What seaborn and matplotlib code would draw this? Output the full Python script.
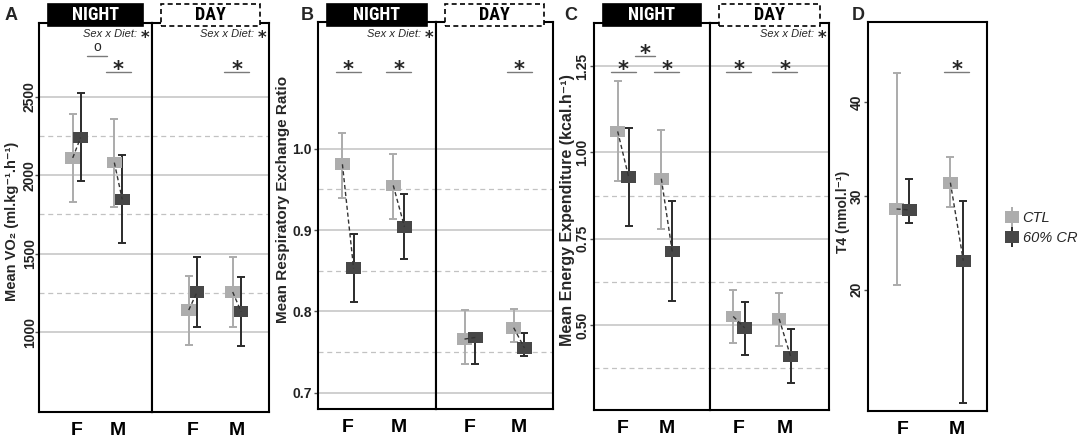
"""Metabolic cage summary: VO2, RER, energy expenditure and T4 by sex and diet."""

import matplotlib

matplotlib.use("Agg")
import matplotlib.pyplot as plt
import pandas as pd
import seaborn as sns
from matplotlib import font_manager
from matplotlib.lines import Line2D
from matplotlib.patches import Rectangle
from matplotlib.transforms import blended_transform_factory


W, H = 1084, 437

SEXES = ["F", "M"]
DIETS = ["CTL", "60% CR"]
PHASES = ["NIGHT", "DAY"]

# order: NIGHT F CTL, NIGHT F CR, NIGHT M CTL, NIGHT M CR, then DAY in the same order
vo2_mean = [2110, 2240, 2080, 1845, 1140, 1255, 1255, 1130]
vo2_low = [1830, 1960, 1800, 1570, 915, 1030, 1030, 908]
vo2_high = [2390, 2525, 2360, 2130, 1360, 1480, 1480, 1350]

rer_mean = [0.981, 0.853, 0.955, 0.904, 0.766, 0.768, 0.780, 0.755]
rer_low = [0.940, 0.812, 0.914, 0.864, 0.735, 0.735, 0.763, 0.745]
rer_high = [1.020, 0.895, 0.994, 0.944, 0.802, 0.772, 0.803, 0.774]

ee_mean = [1.061, 0.930, 0.924, 0.713, 0.525, 0.492, 0.518, 0.409]
ee_low = [0.916, 0.786, 0.779, 0.571, 0.449, 0.414, 0.438, 0.333]
ee_high = [1.206, 1.072, 1.064, 0.858, 0.603, 0.568, 0.594, 0.490]

# T4 measured once: F CTL, F CR, M CTL, M CR
t4_mean = [28.6, 28.5, 31.4, 23.1]
t4_low = [20.5, 27.1, 28.8, 7.9]
t4_high = [43.1, 31.8, 34.1, 29.5]

# significance bars: (phase, centre on the sex axis, level, symbol)
vo2_sig = [("NIGHT", 1.5, 1, "o"), ("NIGHT", 2, 0, "*"), ("DAY", 2, 0, "*")]
rer_sig = [("NIGHT", 1, 0, "*"), ("NIGHT", 2, 0, "*"), ("DAY", 2, 0, "*")]
ee_sig = [("NIGHT", 1, 0, "*"), ("NIGHT", 1.5, 1, "*"), ("NIGHT", 2, 0, "*"),
          ("DAY", 1, 0, "*"), ("DAY", 2, 0, "*")]
t4_sig = [("ALL", 2, 0, "*")]

vo2_interaction = ["NIGHT", "DAY"]
rer_interaction = ["NIGHT"]
ee_interaction = ["DAY"]

CTL_FILL = "#ADADAD"
CR_FILL = "#474747"
BAR_COLORS = {"CTL": "#ABABAB", "60% CR": "#2B2B2B"}
PALETTE = {"CTL": CTL_FILL, "60% CR": CR_FILL}
GRID = "#C2C2C2"
SIG_GREY = "#7A7A7A"
BOX = [(-1, -0.8), (1, -0.8), (1, 0.8), (-1, 0.8), (-1, -0.8)]

sns.set_theme(style="white")
plt.rcParams.update({
    "font.family": ["Liberation Sans", "DejaVu Sans"],
    "axes.edgecolor": "black",
    "axes.linewidth": 1.5,
})

names = {f.name for f in font_manager.fontManager.ttflist}
NARROW = [n for n in ("Liberation Sans Narrow", "DejaVu Sans Condensed", "Roboto Condensed")
          if n in names]
STRIP_FONT = NARROW[0] if NARROW else "Liberation Sans"
STRIP_SIZE = 13 if NARROW else 11.5

panels = [
    dict(letter="A", letter_x=5, phases=PHASES, mean=vo2_mean, low=vo2_low, high=vo2_high,
         label="Mean VO₂ (ml.kg⁻¹.h⁻¹)", label_size=10.5, label_x=19, label_y=221,
         tick_pad=-1.4,
         cols=[(39, 152), (152, 269)], rows=(23, 412), xlims=[(0.095, 2.81), (0.07, 2.73)],
         dodge=0.095, ylim=(490, 2970), ticks=[1000, 1500, 2000, 2500],
         minor=[1250, 1750, 2250], fmt="{:.0f}", rot=90, grid=True,
         sig=vo2_sig, inter=vo2_interaction),
    dict(letter="B", letter_x=301, phases=PHASES, mean=rer_mean, low=rer_low, high=rer_high,
         label="Mean Respiratory Exchange Ratio", label_size=11, label_x=290, label_y=199,
         tick_pad=1.5,
         cols=[(318, 436), (436, 553)], rows=(22, 409), xlims=[(0.41, 2.73), (0.31, 2.69)],
         dodge=0.11, ylim=(0.680, 1.156), ticks=[0.7, 0.8, 0.9, 1.0],
         minor=[0.75, 0.85, 0.95], fmt="{:.1f}", rot=0, grid=True,
         sig=rer_sig, inter=rer_interaction),
    dict(letter="C", letter_x=564, phases=PHASES, mean=ee_mean, low=ee_low, high=ee_high,
         label="Mean Energy Expenditure (kcal.h⁻¹)", label_size=11.5, label_x=575,
         label_y=210, tick_pad=0.5,
         cols=[(594, 710), (710, 829)], rows=(23, 410), xlims=[(0.333, 2.99), (0.37, 2.96)],
         dodge=0.125, ylim=(0.254, 1.375), ticks=[0.50, 0.75, 1.00, 1.25],
         minor=[0.375, 0.625, 0.875], fmt="{:.2f}", rot=90, grid=True,
         sig=ee_sig, inter=ee_interaction),
    dict(letter="D", letter_x=852, phases=["ALL"], mean=t4_mean, low=t4_low, high=t4_high,
         label="T4 (nmol.l⁻¹)", label_size=10, label_x=850, label_y=212, tick_pad=0,
         cols=[(868, 987)], rows=(22, 411), xlims=[(0.35, 2.56)],
         dodge=0.12, ylim=(7.1, 48.5), ticks=[20, 30, 40], minor=[],
         fmt="{:.0f}", rot=90, grid=False, sig=t4_sig, inter=[]),
]


def px_rect(x0, x1, y0, y1):
    return [x0 / W, 1 - y1 / H, (x1 - x0) / W, (y1 - y0) / H]


def px_to_data(px, xlim, cols):
    return px * (xlim[1] - xlim[0]) / (cols[1] - cols[0])


def add_sig(ax, x_center, level, symbol, rows, xlim, cols):
    y0, y1 = rows
    line_px = 72 if level == 0 else 56
    frac = (y1 - line_px) / (y1 - y0)
    half = px_to_data(12.5 if level == 0 else 10, xlim, cols)
    trans = blended_transform_factory(ax.transData, ax.transAxes)
    ax.plot([x_center - half, x_center + half], [frac, frac], transform=trans,
            color=SIG_GREY, lw=1.0, clip_on=False, zorder=6)
    if symbol == "*":
        ax.annotate("*", (x_center, frac), xycoords=trans, xytext=(0, -3.2),
                    textcoords="offset points", ha="center", va="baseline",
                    fontsize=15, fontweight="bold", family="DejaVu Sans")
    else:
        ax.annotate(symbol, (x_center, frac), xycoords=trans, xytext=(0, 3.5),
                    textcoords="offset points", ha="center", va="baseline", fontsize=10)


def add_interaction(ax, rows):
    y0, y1 = rows
    frac = (y1 - 34) / (y1 - y0)
    ax.annotate("*", (1, frac), xycoords="axes fraction", xytext=(-2, -6.2),
                textcoords="offset points", ha="right", va="baseline",
                fontsize=12, fontweight="bold", family="DejaVu Sans")
    ax.annotate("Sex x Diet:", (1, frac), xycoords="axes fraction", xytext=(-11, 0),
                textcoords="offset points", ha="right", va="center",
                fontsize=8, style="italic")


def add_header(fig, ax, text, filled):
    bb = ax.get_position()
    x0, x1 = bb.x0 + 9 / W, bb.x1 - 9 / W
    ytop, ybot = 1 - 4 / H, 1 - 26 / H
    rect = Rectangle((x0, ybot), x1 - x0, ytop - ybot, transform=fig.transFigure,
                     facecolor="black" if filled else "white", edgecolor="black",
                     lw=1.2, ls="-" if filled else (0, (3, 2)), zorder=5)
    fig.add_artist(rect)
    fig.text((x0 + x1) / 2, (ytop + ybot) / 2, text, color="white" if filled else "black",
             ha="center", va="center", fontsize=STRIP_SIZE, fontweight="bold",
             family=STRIP_FONT, zorder=6)


def draw_panel(fig, cfg):
    rows = cfg["rows"]
    frame = pd.MultiIndex.from_product(
        [cfg["phases"], SEXES, DIETS], names=["phase", "sex", "diet"]
    ).to_frame(index=False)
    frame["mean"] = cfg["mean"]
    frame["low"] = cfg["low"]
    frame["high"] = cfg["high"]
    sex_pos = {s: i + 1 for i, s in enumerate(SEXES)}
    diet_shift = {"CTL": -cfg["dodge"], "60% CR": cfg["dodge"]}
    frame["x"] = frame["sex"].map(sex_pos) + frame["diet"].map(diet_shift)

    axes = []
    for cols, xlim, phase in zip(cfg["cols"], cfg["xlims"], cfg["phases"]):
        ax = fig.add_axes(px_rect(*cols, *rows), sharey=axes[0] if axes else None)
        sub = frame[frame["phase"] == phase]
        for diet in DIETS:
            d = sub[sub["diet"] == diet]
            ax.errorbar(d["x"], d["mean"], yerr=[d["mean"] - d["low"], d["high"] - d["mean"]],
                        fmt="none", ecolor=BAR_COLORS[diet], elinewidth=1.4,
                        capsize=2.6, capthick=1.4, zorder=3)
        sns.scatterplot(data=sub, x="x", y="mean", hue="diet", hue_order=DIETS, palette=PALETTE,
                        marker=BOX, s=112, linewidth=0, legend=False, ax=ax, zorder=4)
        sns.lineplot(data=sub, x="x", y="mean", units="sex", estimator=None, sort=False,
                     color="#333333", lw=1.0, linestyle=(0, (3, 2)), legend=False,
                     ax=ax, zorder=5)
        ax.set_xlim(*xlim)
        ax.set_xticks([1, 2])
        ax.set_xticklabels(SEXES, fontsize=14, fontweight="bold")
        ax.tick_params(axis="x", length=0, pad=7, colors="black")
        ax.set_xlabel("")
        ax.set_ylabel("")
        for side in ax.spines.values():
            side.set_linewidth(1.5)
            side.set_color("black")
        axes.append(ax)

    first = axes[0]
    first.set_ylim(*cfg["ylim"])
    first.set_yticks(cfg["ticks"])
    if cfg["minor"]:
        first.set_yticks(cfg["minor"], minor=True)
    first.set_yticklabels([cfg["fmt"].format(t) for t in cfg["ticks"]],
                          fontsize=10, fontweight="bold", color="#222222")
    first.tick_params(axis="y", which="major", left=True, length=3, width=1,
                      color="#555555", pad=cfg["tick_pad"], labelrotation=cfg["rot"])
    first.tick_params(axis="y", which="minor", left=False, length=0)
    if cfg["rot"]:
        for lab in first.get_yticklabels():
            lab.set_va("center")
    first.set_ylabel(cfg["label"], fontsize=cfg["label_size"], fontweight="bold")
    x0, x1 = cfg["cols"][0]
    y0, y1 = rows
    first.yaxis.set_label_coords((cfg["label_x"] - x0) / (x1 - x0),
                                 (y1 - cfg["label_y"]) / (y1 - y0))
    for ax in axes[1:]:
        ax.tick_params(axis="y", which="both", left=False, labelleft=False)

    for ax in axes:
        if cfg["grid"]:
            ax.grid(which="major", axis="y", color=GRID, lw=1.1, ls="-")
            ax.grid(which="minor", axis="y", color=GRID, lw=0.9, ls=(0, (4, 3)))
            ax.grid(which="both", axis="x", visible=False)
        else:
            ax.grid(False)
        ax.set_axisbelow(True)

    lookup = dict(zip(cfg["phases"], zip(axes, cfg["xlims"], cfg["cols"])))
    for phase, xc, level, symbol in cfg["sig"]:
        ax, xlim, cols = lookup[phase]
        add_sig(ax, xc, level, symbol, rows, xlim, cols)
    for phase in cfg["inter"]:
        add_interaction(lookup[phase][0], rows)
    if cfg["phases"] == PHASES:
        add_header(fig, axes[0], "NIGHT", True)
        add_header(fig, axes[1], "DAY", False)

    fig.text(cfg["letter_x"] / W, 1 - 20 / H, cfg["letter"], fontsize=13,
             fontweight="bold", va="baseline")


fig = plt.figure(figsize=(W / 100, H / 100), dpi=100)
for cfg in panels:
    draw_panel(fig, cfg)

proxies = []
for diet, fill in PALETTE.items():
    bar = Line2D([], [], marker="|", markersize=15, mew=1.4, ls="none", color=BAR_COLORS[diet])
    box = Line2D([], [], marker=BOX, markersize=10.4, ls="none", color=fill, mew=0)
    proxies.append((bar, box))
fig.legend(proxies, DIETS, loc="center left", bbox_to_anchor=(992 / W, 1 - 228 / H),
           frameon=False, handlelength=1.0, handletextpad=0.2, labelspacing=0.45,
           prop={"size": 10.5, "style": "italic"})

fig.savefig("out.png", dpi=100)
